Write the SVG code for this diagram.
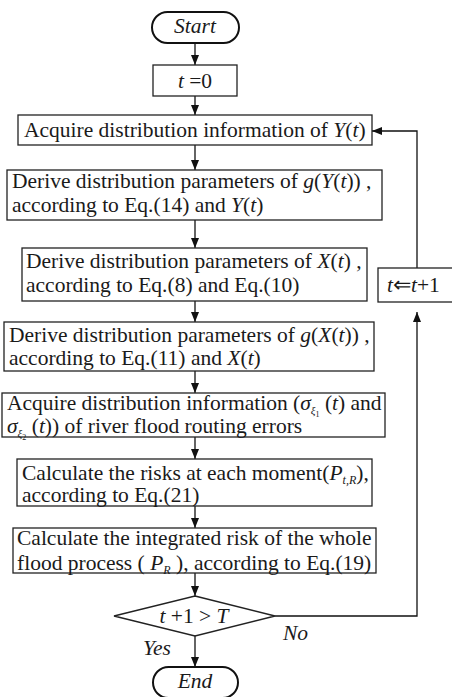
<svg xmlns="http://www.w3.org/2000/svg" width="452" height="697" viewBox="0 0 452 697">
<defs>
<style>
.box{fill:#fff;stroke:#222;stroke-width:1.3}
.term{fill:#fff;stroke:#111;stroke-width:2}
.t{font-family:"Liberation Serif","Times New Roman",serif;font-size:21.5px;fill:#1a1a1a}
.i{font-style:italic}
.c{stroke:#111;stroke-width:1.3;fill:none}
</style>
<marker id="ah" markerUnits="userSpaceOnUse" markerWidth="10" markerHeight="8" refX="10" refY="4" orient="auto">
<path d="M0,0 L10,4 L0,8 z" fill="#111"/>
</marker>
</defs>
<rect width="452" height="697" fill="#fff"/>

<g id="connectors">
<line class="c" x1="195" y1="43" x2="195" y2="65" marker-end="url(#ah)"/>
<line class="c" x1="195" y1="96" x2="195" y2="115" marker-end="url(#ah)"/>
<line class="c" x1="195" y1="145" x2="195" y2="170" marker-end="url(#ah)"/>
<line class="c" x1="195" y1="220" x2="195" y2="248" marker-end="url(#ah)"/>
<line class="c" x1="195" y1="301" x2="195" y2="322" marker-end="url(#ah)"/>
<line class="c" x1="195" y1="371" x2="195" y2="393" marker-end="url(#ah)"/>
<line class="c" x1="195" y1="437" x2="195" y2="459" marker-end="url(#ah)"/>
<line class="c" x1="195" y1="506" x2="195" y2="528" marker-end="url(#ah)"/>
<line class="c" x1="195" y1="573" x2="195" y2="596" marker-end="url(#ah)"/>
<line class="c" x1="195" y1="636" x2="195" y2="667" marker-end="url(#ah)"/>
<polyline class="c" points="275,616 417,616 417,312" marker-end="url(#ah)"/>
<polyline class="c" points="417,268 417,131 372,131" marker-end="url(#ah)"/>
</g>

<g id="start">
<rect class="term" x="152" y="12" width="87" height="31" rx="15.5"/>
<text class="t i" x="195" y="33" text-anchor="middle" font-size="17">Start</text>
</g>

<g id="init">
<rect class="box" x="153" y="65" width="84" height="31"/>
<text class="t" x="195" y="88" text-anchor="middle" font-size="22"><tspan class="i">t</tspan> =0</text>
</g>

<g id="box1">
<rect class="box" x="18" y="115" width="354" height="30"/>
<text class="t" x="24" y="137">Acquire distribution information of <tspan class="i">Y</tspan>(<tspan class="i">t</tspan>)</text>
</g>

<g id="box2">
<rect class="box" x="7" y="170" width="375" height="50"/>
<text class="t" x="12" y="188">Derive distribution parameters of <tspan class="i">g</tspan>(<tspan class="i">Y</tspan>(<tspan class="i">t</tspan>)) ,</text>
<text class="t" x="12" y="212">according to Eq.(14) and <tspan class="i">Y</tspan>(<tspan class="i">t</tspan>)</text>
</g>

<g id="box3">
<rect class="box" x="22" y="248" width="345" height="53"/>
<text class="t" x="26" y="268">Derive distribution parameters of <tspan class="i">X</tspan>(<tspan class="i">t</tspan>) ,</text>
<text class="t" x="26" y="292">according to Eq.(8) and Eq.(10)</text>
</g>

<g id="box4">
<rect class="box" x="4" y="322" width="370" height="49"/>
<text class="t" x="9" y="342">Derive distribution parameters of <tspan class="i">g</tspan>(<tspan class="i">X</tspan>(<tspan class="i">t</tspan>)) ,</text>
<text class="t" x="9" y="365">according to Eq.(11) and <tspan class="i">X</tspan>(<tspan class="i">t</tspan>)</text>
</g>

<g id="box5">
<rect class="box" x="2" y="393" width="383" height="44"/>
<text class="t" x="7" y="410">Acquire distribution information (<tspan class="i">σ</tspan><tspan class="i" font-size="11" dy="4">ξ</tspan><tspan font-size="8" dy="3">1</tspan><tspan dy="-7"> (</tspan><tspan class="i">t</tspan>) and</text>
<text class="t" x="7" y="433"><tspan class="i">σ</tspan><tspan class="i" font-size="11" dy="4">ξ</tspan><tspan font-size="8" dy="3">2</tspan><tspan dy="-7"> (</tspan><tspan class="i">t</tspan>)) of river flood routing errors</text>
</g>

<g id="box6">
<rect class="box" x="17" y="459" width="355" height="47"/>
<text class="t" x="22" y="480">Calculate the risks at each moment(<tspan class="i">P</tspan><tspan class="i" font-size="12" dy="4">t,R</tspan><tspan dy="-4">),</tspan></text>
<text class="t" x="22" y="502">according to Eq.(21)</text>
</g>

<g id="box7">
<rect class="box" x="13" y="528" width="363" height="45"/>
<text class="t" x="17" y="545">Calculate the integrated risk of the whole</text>
<text class="t" x="17" y="570">flood process ( <tspan class="i">P</tspan><tspan class="i" font-size="12" dy="4">R</tspan><tspan dy="-4"> ), according to Eq.(19)</tspan></text>
</g>

<g id="decision">
<polygon class="box" points="195,596 275,616 195,636 114,616"/>
<text class="t" x="194" y="623" text-anchor="middle" font-size="20"><tspan class="i">t</tspan> +1 &gt; <tspan class="i">T</tspan></text>
</g>

<g id="increment">
<rect class="box" x="378" y="268" width="80" height="34"/>
<text class="t" x="387" y="292" font-size="19"><tspan class="i">t</tspan>⇐<tspan class="i">t</tspan>+1</text>
</g>

<g id="end">
<rect class="term" x="153" y="667" width="85" height="31" rx="15.5"/>
<text class="t i" x="195" y="688" text-anchor="middle" font-size="17">End</text>
</g>

<g id="labels">
<text class="t i" x="283" y="640" font-size="21">No</text>
<text class="t i" x="143" y="655" font-size="20">Yes</text>
</g>
</svg>
